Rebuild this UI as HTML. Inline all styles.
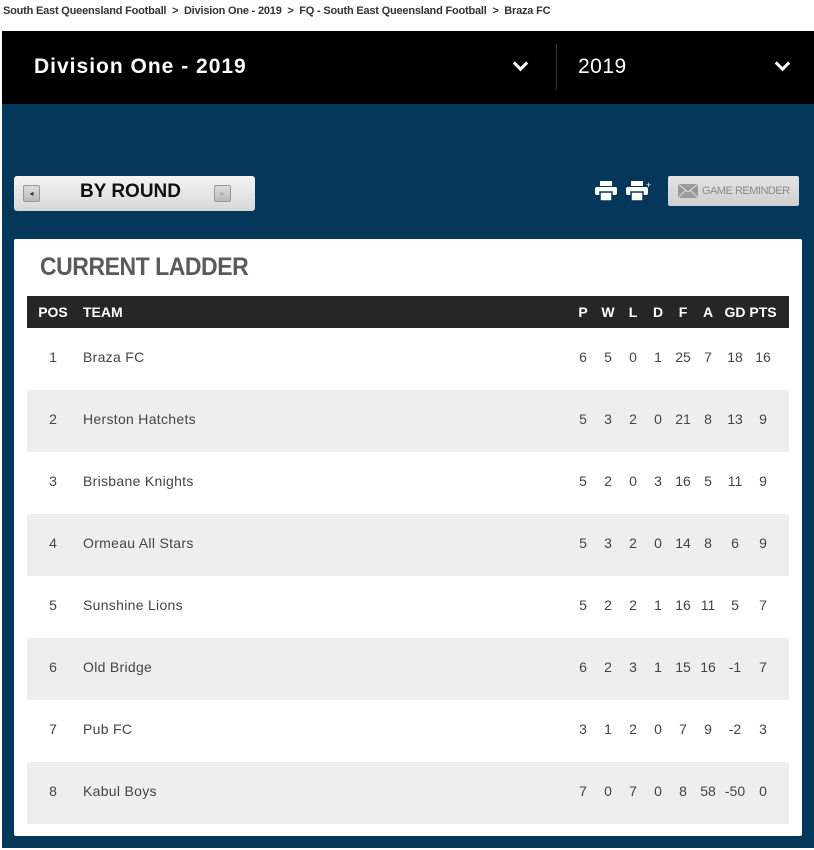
<!DOCTYPE html>
<html><head><meta charset="utf-8"><style>
*{margin:0;padding:0;box-sizing:border-box}
body{width:814px;height:850px;background:#fff;position:relative;overflow:hidden;font-family:"Liberation Sans",sans-serif}
.a{position:absolute}
.crumb{left:3px;top:5px;font-size:11px;color:#333;white-space:nowrap;font-weight:bold;letter-spacing:-0.2px}
.hdr{left:2px;top:31px;width:812px;height:73px;background:#000}
.navy{left:2px;top:104px;width:812px;height:744px;background:#04375a}
.t1{left:34px;top:55px;color:#fff;font-size:21px;font-weight:bold;letter-spacing:1px}
.t2{left:578px;top:55px;color:#fff;font-size:21px;letter-spacing:0.5px}
.sep{left:556px;top:44px;width:1px;height:46px;background:#333}
.chev{width:11px;height:11px;border-right:3px solid #fff;border-bottom:3px solid #fff;transform:rotate(45deg)}
.btn{left:14px;top:176px;width:241px;height:35px;border-radius:3px;background:linear-gradient(#f4f4f4,#d8d8d8)}
.arr{width:17px;height:17px;border:1px solid #999;border-radius:2px;background:linear-gradient(#ddd,#bbb);font-size:8px;text-align:center;line-height:15px;color:#333}
.gr{left:668px;top:176px;width:131px;height:30px;background:linear-gradient(#e4e4e4,#cfcfcf);border-radius:2px;color:#8a8a8a;font-size:11px;line-height:30px;padding-left:34px;letter-spacing:-0.5px}
.panel{left:14px;top:239px;width:788px;height:597px;background:#fff;border-radius:2px}
.title{left:40px;top:253px;font-size:25px;font-weight:bold;color:#5a5a5a;letter-spacing:-0.5px;transform:scaleX(0.92);transform-origin:left}
.th{left:27px;top:296px;width:762px;height:32px;background:#262626;color:#fff;font-weight:bold;font-size:14px}
.row{left:27px;width:762px;height:62px;color:#444;font-size:14px}
.c{position:absolute;top:0;line-height:inherit;text-align:center;width:30px;margin-left:-15px}
</style></head><body>
<div class="a crumb">South East Queensland Football &nbsp;&gt;&nbsp; Division One - 2019 &nbsp;&gt;&nbsp; FQ - South East Queensland Football &nbsp;&gt;&nbsp; Braza FC</div>
<div class="a hdr"></div>
<div class="a navy"></div>
<div class="a t1">Division One - 2019</div>
<div class="a sep"></div>
<div class="a t2">2019</div>
<div class="a chev" style="left:515px;top:58px"></div>
<div class="a chev" style="left:777px;top:58px"></div>
<div class="a btn"><div class="a arr" style="left:9px;top:9px">◂</div><div class="a" style="left:66px;top:5px;font-size:19px;font-weight:bold;color:#111">BY ROUND</div><div class="a arr" style="left:200px;top:9px;color:#aaa">▸</div></div>
<svg class="a" style="left:595px;top:181px" width="22" height="20"><rect x="5" y="0" width="12" height="5" fill="#fff"/><rect x="0" y="6" width="22" height="8" rx="2" fill="#fff"/><rect x="5" y="11" width="12" height="9" fill="#fff" stroke="#04375a" stroke-width="1.5"/></svg>
<svg class="a" style="left:626px;top:180px" width="28" height="21"><rect x="5" y="1" width="12" height="5" fill="#fff"/><rect x="0" y="7" width="22" height="8" rx="2" fill="#fff"/><rect x="5" y="12" width="12" height="9" fill="#fff" stroke="#04375a" stroke-width="1.5"/><text x="20" y="8" fill="#fff" font-size="9">+</text></svg>
<div class="a gr">GAME REMINDER<svg class="a" style="left:10px;top:8px" width="20" height="14"><rect width="20" height="14" fill="#999"/><path d="M0 0L10 8L20 0M0 14L8 6M20 14L12 6" stroke="#ddd" fill="none"/></svg></div>
<div class="a panel"></div>
<div class="a title">CURRENT LADDER</div>
<div class="a th" style="line-height:32px">
<span class="c" style="left:26px;width:40px;margin-left:-20px">POS</span><span class="a" style="left:56px">TEAM</span>
<span class="c" style="left:556px">P</span><span class="c" style="left:581px">W</span><span class="c" style="left:606px">L</span><span class="c" style="left:631px">D</span><span class="c" style="left:656px">F</span><span class="c" style="left:681px">A</span><span class="c" style="left:708px">GD</span><span class="c" style="left:736px">PTS</span>
</div>
<div id="rows"></div>
<script>
var d=[["1","Braza FC",6,5,0,1,25,7,18,16],["2","Herston Hatchets",5,3,2,0,21,8,13,9],["3","Brisbane Knights",5,2,0,3,16,5,11,9],["4","Ormeau All Stars",5,3,2,0,14,8,6,9],["5","Sunshine Lions",5,2,2,1,16,11,5,7],["6","Old Bridge",6,2,3,1,15,16,-1,7],["7","Pub FC",3,1,2,0,7,9,-2,3],["8","Kabul Boys",7,0,7,0,8,58,-50,0]];
var xs=[556,581,606,631,656,681,708,736],h="";
d.forEach(function(r,i){h+='<div class="a row" style="top:'+(328+i*62)+'px;line-height:58px;background:'+(i%2?'#eeeeee':'#fff')+'"><span class="c" style="left:26px">'+r[0]+'</span><span class="a" style="left:56px;letter-spacing:0.3px">'+r[1]+'</span>';
for(var j=0;j<8;j++)h+='<span class="c" style="left:'+xs[j]+'px">'+r[j+2]+'</span>';h+='</div>';});
document.getElementById("rows").innerHTML=h;
</script>
</body></html>
